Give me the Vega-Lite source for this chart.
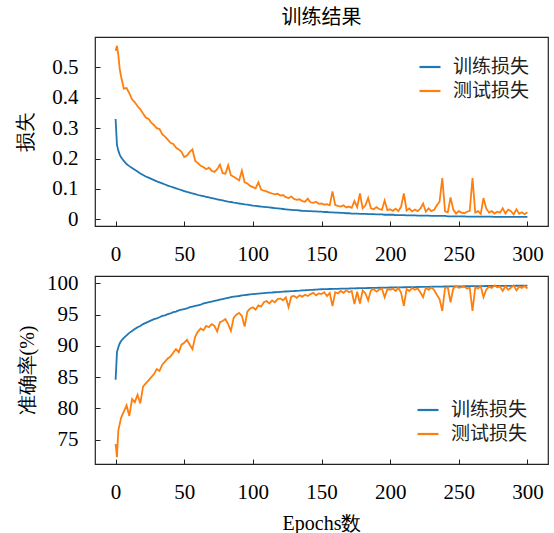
{
"$schema": "https://vega.github.io/schema/vega-lite/v6.json",
"padding": {"left": 14, "top": 7, "right": 5, "bottom": 0},
"data": {"values": [
{"e":0,"tl":0.330,"vl":0.555,"ta":84.6,"va":74.3},
{"e":1,"tl":0.245,"vl":0.571,"ta":89.0,"va":72.2},
{"e":2,"tl":0.226,"vl":0.540,"ta":89.8,"va":76.5},
{"e":3,"tl":0.213,"vl":0.495,"ta":90.4,"va":77.5},
{"e":4,"tl":0.204,"vl":0.470,"ta":90.8,"va":78.5},
{"e":6,"tl":0.192,"vl":0.430,"ta":91.3,"va":79.5},
{"e":8,"tl":0.182,"vl":0.432,"ta":91.7,"va":80.5},
{"e":10,"tl":0.175,"vl":0.415,"ta":92.1,"va":78.8},
{"e":12,"tl":0.169,"vl":0.395,"ta":92.4,"va":81.5},
{"e":14,"tl":0.163,"vl":0.385,"ta":92.7,"va":81.0},
{"e":16,"tl":0.157,"vl":0.372,"ta":93.0,"va":82.2},
{"e":18,"tl":0.151,"vl":0.362,"ta":93.2,"va":80.8},
{"e":20,"tl":0.146,"vl":0.348,"ta":93.5,"va":83.5},
{"e":22,"tl":0.141,"vl":0.335,"ta":93.7,"va":84.0},
{"e":24,"tl":0.137,"vl":0.330,"ta":93.9,"va":84.5},
{"e":26,"tl":0.133,"vl":0.318,"ta":94.1,"va":85.0},
{"e":28,"tl":0.129,"vl":0.310,"ta":94.3,"va":85.5},
{"e":30,"tl":0.125,"vl":0.300,"ta":94.4,"va":86.3},
{"e":32,"tl":0.1215,"vl":0.297,"ta":94.6,"va":86.0},
{"e":34,"tl":0.118,"vl":0.280,"ta":94.8,"va":87.0},
{"e":36,"tl":0.1145,"vl":0.272,"ta":94.9,"va":87.5},
{"e":38,"tl":0.111,"vl":0.262,"ta":95.1,"va":88.0},
{"e":40,"tl":0.108,"vl":0.252,"ta":95.2,"va":88.3},
{"e":42,"tl":0.105,"vl":0.248,"ta":95.4,"va":88.9},
{"e":44,"tl":0.102,"vl":0.236,"ta":95.5,"va":89.5},
{"e":46,"tl":0.099,"vl":0.230,"ta":95.7,"va":89.0},
{"e":48,"tl":0.096,"vl":0.222,"ta":95.8,"va":90.2},
{"e":50,"tl":0.093,"vl":0.205,"ta":95.9,"va":90.5},
{"e":52,"tl":0.090,"vl":0.210,"ta":96.0,"va":91.0},
{"e":54,"tl":0.088,"vl":0.222,"ta":96.2,"va":90.2},
{"e":56,"tl":0.085,"vl":0.230,"ta":96.3,"va":89.5},
{"e":58,"tl":0.083,"vl":0.192,"ta":96.4,"va":91.5},
{"e":60,"tl":0.080,"vl":0.185,"ta":96.5,"va":92.3},
{"e":62,"tl":0.078,"vl":0.176,"ta":96.6,"va":92.8},
{"e":64,"tl":0.076,"vl":0.172,"ta":96.8,"va":92.5},
{"e":66,"tl":0.074,"vl":0.165,"ta":96.9,"va":93.2},
{"e":68,"tl":0.072,"vl":0.170,"ta":97.0,"va":93.0},
{"e":70,"tl":0.070,"vl":0.160,"ta":97.1,"va":93.5},
{"e":72,"tl":0.068,"vl":0.156,"ta":97.2,"va":93.2},
{"e":74,"tl":0.066,"vl":0.165,"ta":97.3,"va":92.3},
{"e":76,"tl":0.064,"vl":0.180,"ta":97.4,"va":93.8},
{"e":78,"tl":0.062,"vl":0.152,"ta":97.5,"va":94.0},
{"e":80,"tl":0.060,"vl":0.150,"ta":97.6,"va":94.3},
{"e":82,"tl":0.058,"vl":0.178,"ta":97.7,"va":93.5},
{"e":84,"tl":0.057,"vl":0.145,"ta":97.8,"va":92.4},
{"e":86,"tl":0.055,"vl":0.140,"ta":97.9,"va":94.5},
{"e":88,"tl":0.054,"vl":0.134,"ta":97.95,"va":95.0},
{"e":90,"tl":0.052,"vl":0.128,"ta":98.0,"va":95.3},
{"e":92,"tl":0.051,"vl":0.160,"ta":98.1,"va":94.8},
{"e":94,"tl":0.049,"vl":0.122,"ta":98.15,"va":93.1},
{"e":96,"tl":0.048,"vl":0.118,"ta":98.2,"va":95.5},
{"e":98,"tl":0.047,"vl":0.110,"ta":98.25,"va":96.0},
{"e":100,"tl":0.045,"vl":0.106,"ta":98.3,"va":96.2},
{"e":102,"tl":0.044,"vl":0.102,"ta":98.34,"va":95.8},
{"e":104,"tl":0.043,"vl":0.122,"ta":98.38,"va":96.5},
{"e":106,"tl":0.042,"vl":0.098,"ta":98.42,"va":96.3},
{"e":108,"tl":0.041,"vl":0.094,"ta":98.46,"va":97.0},
{"e":110,"tl":0.040,"vl":0.092,"ta":98.5,"va":97.2},
{"e":112,"tl":0.039,"vl":0.088,"ta":98.53,"va":96.8},
{"e":114,"tl":0.038,"vl":0.085,"ta":98.56,"va":97.3},
{"e":116,"tl":0.037,"vl":0.082,"ta":98.6,"va":97.0},
{"e":118,"tl":0.036,"vl":0.084,"ta":98.63,"va":97.5},
{"e":120,"tl":0.035,"vl":0.078,"ta":98.66,"va":97.6},
{"e":122,"tl":0.034,"vl":0.080,"ta":98.69,"va":97.3},
{"e":124,"tl":0.033,"vl":0.073,"ta":98.72,"va":97.8},
{"e":126,"tl":0.032,"vl":0.070,"ta":98.75,"va":96.2},
{"e":128,"tl":0.031,"vl":0.075,"ta":98.78,"va":97.9},
{"e":130,"tl":0.030,"vl":0.067,"ta":98.8,"va":98.0},
{"e":132,"tl":0.030,"vl":0.064,"ta":98.83,"va":97.7},
{"e":134,"tl":0.029,"vl":0.066,"ta":98.86,"va":98.1},
{"e":136,"tl":0.028,"vl":0.060,"ta":98.9,"va":97.9},
{"e":138,"tl":0.028,"vl":0.058,"ta":98.92,"va":98.2},
{"e":140,"tl":0.027,"vl":0.068,"ta":98.95,"va":98.0},
{"e":142,"tl":0.027,"vl":0.056,"ta":98.98,"va":98.3},
{"e":144,"tl":0.026,"vl":0.054,"ta":99.0,"va":98.5},
{"e":146,"tl":0.026,"vl":0.058,"ta":99.03,"va":98.1},
{"e":148,"tl":0.025,"vl":0.051,"ta":99.06,"va":98.4},
{"e":150,"tl":0.025,"vl":0.052,"ta":99.08,"va":98.3},
{"e":152,"tl":0.024,"vl":0.048,"ta":99.1,"va":98.6},
{"e":154,"tl":0.024,"vl":0.050,"ta":99.11,"va":98.0},
{"e":156,"tl":0.023,"vl":0.046,"ta":99.12,"va":98.5},
{"e":158,"tl":0.023,"vl":0.092,"ta":99.13,"va":96.4},
{"e":160,"tl":0.022,"vl":0.047,"ta":99.14,"va":98.6},
{"e":162,"tl":0.022,"vl":0.044,"ta":99.15,"va":98.4},
{"e":164,"tl":0.021,"vl":0.042,"ta":99.17,"va":98.8},
{"e":166,"tl":0.021,"vl":0.046,"ta":99.18,"va":98.5},
{"e":168,"tl":0.020,"vl":0.039,"ta":99.19,"va":98.9},
{"e":170,"tl":0.020,"vl":0.042,"ta":99.2,"va":98.6},
{"e":172,"tl":0.019,"vl":0.038,"ta":99.22,"va":98.8},
{"e":174,"tl":0.019,"vl":0.060,"ta":99.23,"va":96.7},
{"e":176,"tl":0.019,"vl":0.040,"ta":99.24,"va":98.7},
{"e":178,"tl":0.018,"vl":0.085,"ta":99.25,"va":96.8},
{"e":180,"tl":0.018,"vl":0.036,"ta":99.26,"va":98.9},
{"e":182,"tl":0.018,"vl":0.046,"ta":99.27,"va":98.4},
{"e":184,"tl":0.017,"vl":0.070,"ta":99.28,"va":97.3},
{"e":186,"tl":0.017,"vl":0.036,"ta":99.29,"va":98.9},
{"e":188,"tl":0.017,"vl":0.033,"ta":99.3,"va":99.1},
{"e":190,"tl":0.016,"vl":0.040,"ta":99.31,"va":98.7},
{"e":192,"tl":0.016,"vl":0.034,"ta":99.32,"va":99.0},
{"e":194,"tl":0.016,"vl":0.031,"ta":99.33,"va":99.2},
{"e":196,"tl":0.015,"vl":0.062,"ta":99.34,"va":97.8},
{"e":198,"tl":0.015,"vl":0.030,"ta":99.35,"va":99.1},
{"e":200,"tl":0.015,"vl":0.033,"ta":99.36,"va":99.0},
{"e":202,"tl":0.015,"vl":0.028,"ta":99.37,"va":99.2},
{"e":204,"tl":0.014,"vl":0.035,"ta":99.38,"va":98.8},
{"e":206,"tl":0.014,"vl":0.027,"ta":99.38,"va":99.3},
{"e":208,"tl":0.014,"vl":0.042,"ta":99.39,"va":98.5},
{"e":210,"tl":0.014,"vl":0.085,"ta":99.40,"va":96.4},
{"e":212,"tl":0.013,"vl":0.029,"ta":99.41,"va":99.1},
{"e":214,"tl":0.013,"vl":0.036,"ta":99.42,"va":98.8},
{"e":216,"tl":0.013,"vl":0.026,"ta":99.42,"va":99.3},
{"e":218,"tl":0.013,"vl":0.032,"ta":99.43,"va":99.0},
{"e":220,"tl":0.012,"vl":0.027,"ta":99.44,"va":99.2},
{"e":222,"tl":0.012,"vl":0.035,"ta":99.45,"va":98.6},
{"e":224,"tl":0.012,"vl":0.052,"ta":99.46,"va":97.8},
{"e":226,"tl":0.012,"vl":0.025,"ta":99.46,"va":99.3},
{"e":228,"tl":0.012,"vl":0.036,"ta":99.47,"va":99.0},
{"e":230,"tl":0.011,"vl":0.027,"ta":99.48,"va":99.4},
{"e":232,"tl":0.011,"vl":0.031,"ta":99.49,"va":99.0},
{"e":234,"tl":0.011,"vl":0.046,"ta":99.50,"va":98.2},
{"e":236,"tl":0.011,"vl":0.058,"ta":99.50,"va":97.5},
{"e":238,"tl":0.011,"vl":0.136,"ta":99.51,"va":95.6},
{"e":240,"tl":0.011,"vl":0.026,"ta":99.52,"va":99.3},
{"e":242,"tl":0.010,"vl":0.023,"ta":99.52,"va":99.4},
{"e":244,"tl":0.010,"vl":0.072,"ta":99.53,"va":97.0},
{"e":246,"tl":0.010,"vl":0.032,"ta":99.54,"va":99.2},
{"e":248,"tl":0.010,"vl":0.019,"ta":99.54,"va":99.6},
{"e":250,"tl":0.010,"vl":0.027,"ta":99.55,"va":99.3},
{"e":252,"tl":0.010,"vl":0.022,"ta":99.55,"va":99.4},
{"e":254,"tl":0.010,"vl":0.020,"ta":99.56,"va":99.5},
{"e":256,"tl":0.009,"vl":0.025,"ta":99.56,"va":99.2},
{"e":258,"tl":0.009,"vl":0.028,"ta":99.57,"va":99.3},
{"e":260,"tl":0.009,"vl":0.136,"ta":99.57,"va":95.6},
{"e":262,"tl":0.009,"vl":0.022,"ta":99.58,"va":99.4},
{"e":264,"tl":0.009,"vl":0.027,"ta":99.58,"va":99.2},
{"e":266,"tl":0.009,"vl":0.018,"ta":99.59,"va":99.6},
{"e":268,"tl":0.009,"vl":0.070,"ta":99.59,"va":97.8},
{"e":270,"tl":0.009,"vl":0.036,"ta":99.60,"va":99.0},
{"e":272,"tl":0.009,"vl":0.022,"ta":99.60,"va":99.5},
{"e":274,"tl":0.009,"vl":0.027,"ta":99.60,"va":99.3},
{"e":276,"tl":0.008,"vl":0.019,"ta":99.61,"va":99.7},
{"e":278,"tl":0.008,"vl":0.025,"ta":99.61,"va":99.4},
{"e":280,"tl":0.008,"vl":0.022,"ta":99.62,"va":99.5},
{"e":282,"tl":0.008,"vl":0.036,"ta":99.62,"va":98.8},
{"e":284,"tl":0.008,"vl":0.019,"ta":99.62,"va":99.6},
{"e":286,"tl":0.008,"vl":0.032,"ta":99.63,"va":99.0},
{"e":288,"tl":0.008,"vl":0.027,"ta":99.63,"va":99.3},
{"e":290,"tl":0.008,"vl":0.016,"ta":99.63,"va":99.7},
{"e":292,"tl":0.008,"vl":0.033,"ta":99.64,"va":98.9},
{"e":294,"tl":0.008,"vl":0.018,"ta":99.64,"va":99.5},
{"e":296,"tl":0.008,"vl":0.023,"ta":99.64,"va":99.3},
{"e":298,"tl":0.008,"vl":0.017,"ta":99.65,"va":99.6},
{"e":300,"tl":0.008,"vl":0.023,"ta":99.65,"va":99.2}
]},
"vconcat": [
{
"width": 453, "height": 189,
"title": {"text": "训练结果", "frame": "group", "offset": 9, "font": "Noto Sans CJK SC", "fontSize": 20, "fontWeight": "normal", "color": "#000000"},
"transform": [{"fold": ["tl", "vl"], "as": ["s", "v"]}],
"mark": {"type": "line", "strokeWidth": 1.8},
"encoding": {
"x": {"field": "e", "type": "quantitative", "scale": {"domain": [-15, 315], "nice": false, "zero": false}, "axis": {"values": [0, 50, 100, 150, 200, 250, 300], "title": null}},
"y": {"field": "v", "type": "quantitative", "scale": {"domain": [-0.022, 0.6], "nice": false, "zero": false}, "axis": {"values": [0, 0.1, 0.2, 0.3, 0.4, 0.5], "format": ".1~f", "title": "损失", "titleX": -60}},
"color": {"field": "s", "type": "nominal", "scale": {"domain": ["tl", "vl"], "range": ["#1f77b4", "#ff7f0e"]}, "legend": {"title": null, "orient": "top-right", "offset": 18, "labelExpr": "datum.value == 'tl' ? '训练损失' : '测试损失'"}}
}
},
{
"width": 453, "height": 188,
"transform": [{"fold": ["ta", "va"], "as": ["s", "v"]}],
"mark": {"type": "line", "strokeWidth": 1.8},
"encoding": {
"x": {"field": "e", "type": "quantitative", "scale": {"domain": [-15, 315], "nice": false, "zero": false}, "axis": {"values": [0, 50, 100, 150, 200, 250, 300], "title": "Epochs数"}},
"y": {"field": "v", "type": "quantitative", "scale": {"domain": [71.1, 101.2], "nice": false, "zero": false}, "axis": {"values": [75, 80, 85, 90, 95, 100], "title": "准确率(%)", "titleX": -58}},
"color": {"field": "s", "type": "nominal", "scale": {"domain": ["ta", "va"], "range": ["#1f77b4", "#ff7f0e"]}, "legend": {"title": null, "orient": "bottom-right", "offset": 20, "labelExpr": "datum.value == 'ta' ? '训练损失' : '测试损失'"}}
}
}
],
"spacing": 6,
"resolve": {"scale": {"x": "independent", "y": "independent", "color": "independent"}, "legend": {"color": "independent"}},
"config": {
"background": "white",
"font": "Liberation Serif",
"view": {"stroke": "#222222", "strokeWidth": 1.2},
"axis": {"domain": false, "grid": false, "tickSize": -5, "tickWidth": 1, "tickColor": "#222222", "labelPadding": 22, "labelFont": "Liberation Serif", "labelFontSize": 21, "labelColor": "#000000", "titleFont": "Liberation Serif", "titleFontSize": 20, "titleFontWeight": "normal", "titleColor": "#000000"},
"axisX": {"titlePadding": 11},
"legend": {"labelFont": "Noto Sans CJK SC", "labelFontSize": 19, "labelColor": "#222222", "symbolType": "stroke", "symbolSize": 441, "symbolStrokeWidth": 2.2, "padding": 0, "rowPadding": 2, "labelOffset": 11}
}
}
